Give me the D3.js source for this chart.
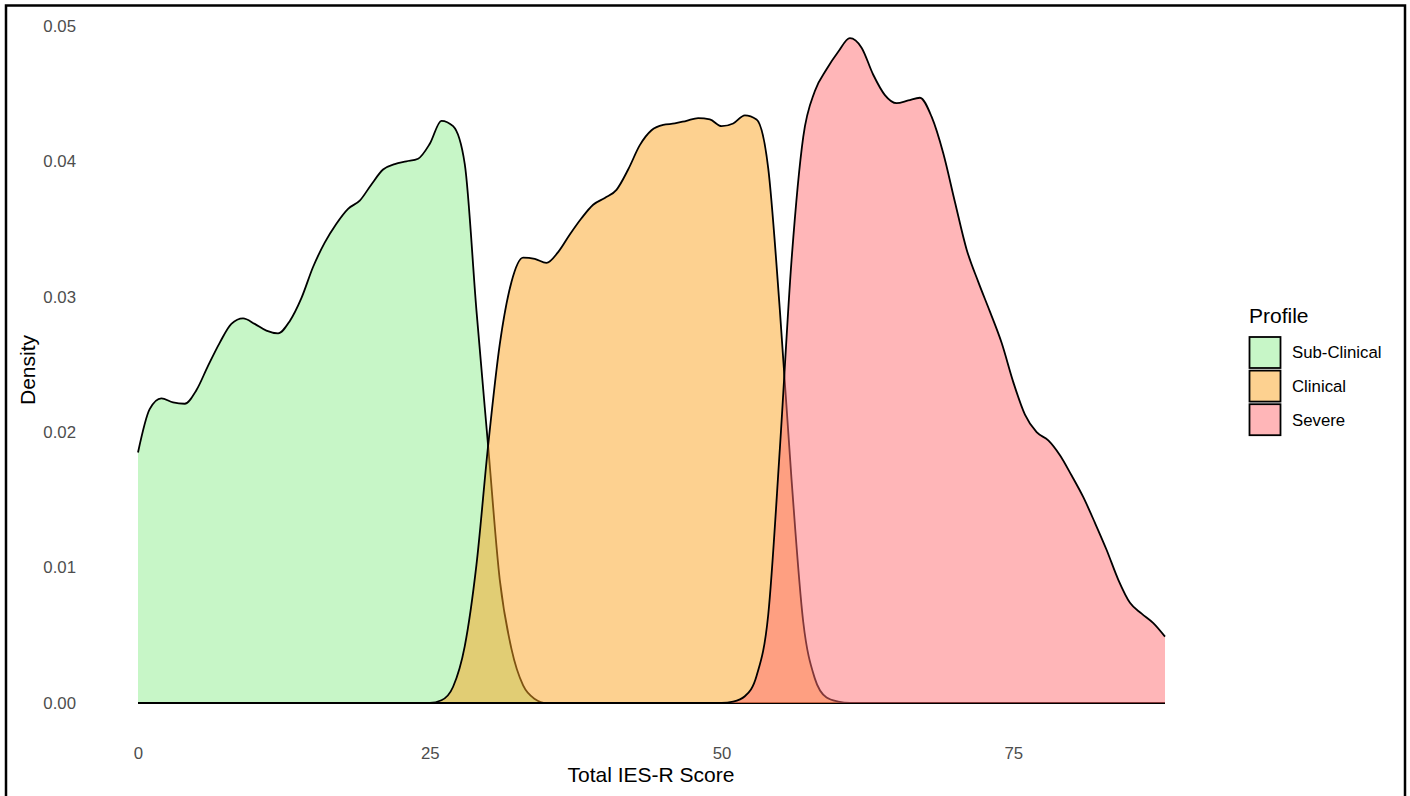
<!DOCTYPE html>
<html>
<head>
<meta charset="utf-8">
<script src="https://cdn.jsdelivr.net/npm/d3@7"></script>
<style>
  body { margin: 0; background: #fff; }
  text { font-family: "Liberation Sans", Arial, Helvetica, sans-serif; }
</style>
</head>
<body>
<div id="chart"></div>
<script>
// Total IES-R score grid (x values of the density estimate)
var scores = [0,1,2,3,4,5,6,7,8,9,10,11,12,13,14,15,16,17,18,19,20,21,22,23,24,25,26,27,28,29,
  30,31,32,33,34,35,36,37,38,39,40,41,42,43,44,45,46,47,48,49,50,51,52,53,54,55,56,57,58,59,
  60,61,62,63,64,65,66,67,68,69,70,71,72,73,74,75,76,77,78,79,80,81,82,83,84,85,86,87,88];

// densities, one value per score
var subClinical = [0.0185,0.0217,0.0225,0.0222,0.0221,0.0231,0.0249,0.0266,0.0280,0.0284,
  0.0280,0.0275,0.0273,0.0282,0.0299,0.0322,0.0340,0.0354,0.0365,0.0371,
  0.0383,0.0394,0.0398,0.0400,0.0402,0.0413,0.0430,0.0426,0.0398,0.0290,
  0.0190,0.0091,0.0040,0.0013,0.0003,0,0,0,0,0,
  0,0,0,0,0,0,0,0,0,0, 0,0,0,0,0,0,0,0,0,0,
  0,0,0,0,0,0,0,0,0,0, 0,0,0,0,0,0,0,0,0,0,
  0,0,0,0,0,0,0,0,0];

var clinical = [0,0,0,0,0,0,0,0,0,0, 0,0,0,0,0,0,0,0,0,0,
  0,0,0,0,0,0,0.0002,0.0012,0.0042,0.0102,
  0.0190,0.0265,0.0311,0.0329,0.0328,0.0325,0.0333,0.0346,0.0358,0.0368,
  0.0373,0.0379,0.0394,0.0412,0.0423,0.0427,0.0428,0.0430,0.0432,0.0431,
  0.0426,0.0428,0.0434,0.0431,0.0395,0.0290,0.0165,0.0060,0.0018,0.0004,
  0.0001,0,0,0,0,0,0,0,0,0, 0,0,0,0,0,0,0,0,0,0,
  0,0,0,0,0,0,0,0,0];

var severe = [0,0,0,0,0,0,0,0,0,0, 0,0,0,0,0,0,0,0,0,0,
  0,0,0,0,0,0,0,0,0,0, 0,0,0,0,0,0,0,0,0,0,
  0,0,0,0,0,0,0,0,0,0,
  0,0.0001,0.0005,0.0020,0.0065,0.0188,0.0327,0.0418,0.0452,0.0468,
  0.0481,0.0491,0.0484,0.0464,0.0449,0.0443,0.0445,0.0447,0.0433,0.0406,
  0.0370,0.0335,0.0311,0.0289,0.0266,0.0237,0.0213,0.0200,0.0194,0.0183,
  0.0168,0.0152,0.0133,0.0113,0.0091,0.0074,0.0066,0.0059,0.0049];

var profiles = ["Sub-Clinical", "Clinical", "Severe"];
var profileColors = ["#90EE90", "#FBA321", "#FF6D71"];
var xTicks = [0, 25, 50, 75];
var yTicks = [0, 0.01, 0.02, 0.03, 0.04, 0.05];

function main(){
    buildChart([subClinical, clinical, severe]);
}

function buildChart(series){
    var width = 1410, height = 796;

    var svg = d3.select("#chart")
        .append("svg")
            .attr("width", width)
            .attr("height", height);

    // frame round the picture
    svg.append("rect")
        .attr("x", 6).attr("y", 5.5)
        .attr("width", 1399).attr("height", 820)
        .attr("fill", "none")
        .attr("stroke", "#000")
        .attr("stroke-width", 2.5);

    var xScale = d3.scaleLinear().domain([0, 88]).range([138, 1165]);
    var yScale = d3.scaleLinear().domain([0, 0.05]).range([703, 26]);

    var area = d3.area()
        .x(function(d){ return xScale(d[0]); })
        .y0(yScale(0))
        .y1(function(d){ return yScale(d[1]); })
        .curve(d3.curveMonotoneX);

    var line = d3.line()
        .x(function(d){ return xScale(d[0]); })
        .y(function(d){ return yScale(d[1]); })
        .curve(d3.curveMonotoneX);

    // densities drawn in order, each fill over the previous outline
    for (var i = 0; i < series.length; i++){
        var pts = scores.map(function(s, j){ return [s, series[i][j]]; });
        svg.append("path")
            .datum(pts)
            .attr("d", area)
            .attr("fill", profileColors[i])
            .attr("fill-opacity", 0.5);
        svg.append("path")
            .datum(pts)
            .attr("d", line)
            .attr("fill", "none")
            .attr("stroke", "#000")
            .attr("stroke-width", 1.8);
    }

    // axes (no lines or ticks, labels only)
    var xAxis = svg.append("g")
        .attr("transform", "translate(0,736)")
        .call(d3.axisBottom(xScale).tickValues(xTicks).tickSize(0).tickPadding(11));
    var yAxis = svg.append("g")
        .attr("transform", "translate(87,0)")
        .call(d3.axisLeft(yScale).tickValues(yTicks).tickSize(0).tickPadding(11)
            .tickFormat(d3.format(".2f")));

    [xAxis, yAxis].forEach(function(ax){
        ax.select(".domain").remove();
        ax.selectAll("text")
            .attr("fill", "#4D4D4D")
            .style("font-size", "16.8px")
            .style("font-family", "'Liberation Sans', Arial, sans-serif");
    });

    svg.append("text")
        .attr("x", 651).attr("y", 782)
        .attr("text-anchor", "middle")
        .style("font-size", "21px")
        .text("Total IES-R Score");

    svg.append("text")
        .attr("transform", "translate(35,370)rotate(-90)")
        .attr("text-anchor", "middle")
        .style("font-size", "21px")
        .text("Density");

    // legend
    var legend = svg.append("g").attr("transform", "translate(1249,0)");
    legend.append("text")
        .attr("x", 0).attr("y", 323)
        .style("font-size", "21px")
        .text("Profile");

    for (var k = 0; k < profiles.length; k++){
        var top = 337 + k * 33.6;
        legend.append("rect")
            .attr("x", 0.5).attr("y", top)
            .attr("width", 31).attr("height", 31)
            .attr("fill", profileColors[k])
            .attr("fill-opacity", 0.5)
            .attr("stroke", "#000")
            .attr("stroke-width", 1.8);
        legend.append("text")
            .attr("x", 43).attr("y", top + 15.5)
            .attr("dy", "0.35em")
            .style("font-size", "16.8px")
            .text(profiles[k]);
    }
}

main();
</script>
</body>
</html>
